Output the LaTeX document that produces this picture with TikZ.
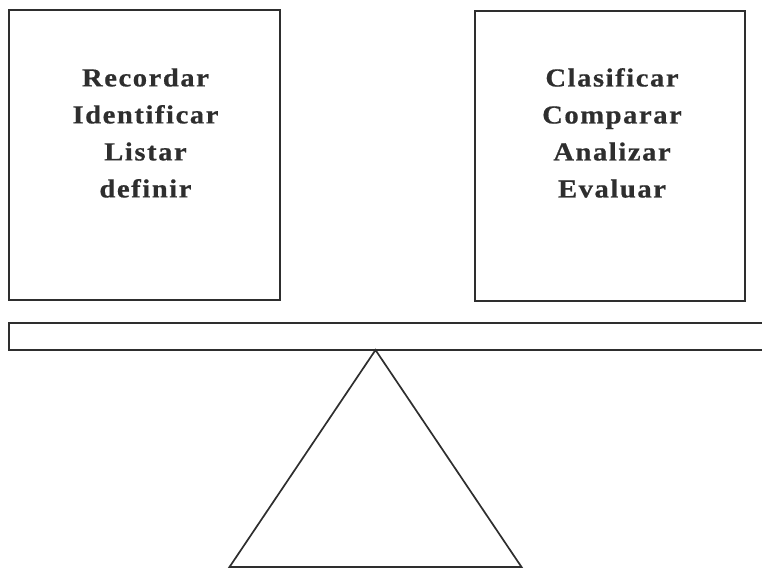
\documentclass[tikz,border=0pt]{standalone}
\usepackage{fontspec}
\newfontfamily\lblfont{Liberation Serif}[LetterSpace=6, FakeStretch=1.1, FakeBold=0.6]
\definecolor{ink}{HTML}{2E2E2E}
\tikzset{
  frame/.style={draw=ink, line width=1.7pt, rectangle, inner sep=0pt},
  words/.style={text=ink, font=\lblfont\bfseries\fontsize{26}{37}\selectfont, align=center, inner sep=0pt}
}
\begin{document}
\begin{tikzpicture}[x=1pt,y=-1pt]
\useasboundingbox (0,0) rectangle (762,569);
\node[frame, minimum width=271pt, minimum height=290pt] (lbox) at (144.5,155) {};
\node[frame, minimum width=270pt, minimum height=290pt] (rbox) at (610,156) {};
\node[words] (ltext) at (145.5,133) {Recordar\\Identificar\\Listar\\definir};
\node[words] (rtext) at (612,133) {Clasificar\\Comparar\\Analizar\\Evaluar};
\node[frame, minimum width=760pt, minimum height=27pt] (beam) at (389,336.5) {};
\coordinate (apex) at (375.5,350);
\coordinate (bl) at (229.5,567);
\coordinate (br) at (521.5,567);
\draw[ink, line width=1.7pt, line join=miter] (apex) -- (bl) -- (br) -- cycle;
\end{tikzpicture}
\end{document}
